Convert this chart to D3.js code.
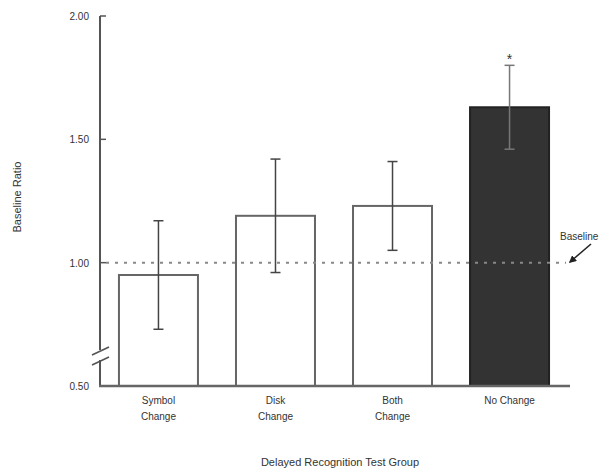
<!DOCTYPE html>
<html>
<head>
<meta charset="utf-8">
<script src="https://cdn.jsdelivr.net/npm/d3@7"></script>
<style>
  body { margin: 0; background: #fff; }
  text { font-family: "Liberation Sans", Arial, sans-serif; fill: #333; }
</style>
</head>
<body>
<svg id="chart" width="611" height="474"></svg>
<script>
// Data
const groups = [["Symbol", "Change"], ["Disk", "Change"], ["Both", "Change"], ["No Change"]];
const means = [0.95, 1.19, 1.23, 1.63];
const errLow = [0.73, 0.96, 1.05, 1.46];
const errHigh = [1.17, 1.42, 1.41, 1.80];
const yTicks = [0.5, 1.0, 1.5, 2.0];
const baseline = 1.0;

const svg = d3.select("#chart");
const axisX = 100, plotBottom = 386, plotTop = 16, plotRight = 570;

const y = d3.scaleLinear().domain([0.5, 2.0]).range([plotBottom, plotTop]);
const x = d3.scaleBand().domain(d3.range(groups.length)).range([100, 568]).paddingInner(0.325).paddingOuter(0.162);

// ── Bars ────────────────────────────────────────────────────────────────────
svg.selectAll(".bar")
  .data(means)
  .join("rect")
  .attr("x", (d, i) => x(i))
  .attr("y", d => y(d))
  .attr("width", x.bandwidth())
  .attr("height", d => plotBottom - y(d))
  .attr("fill", (d, i) => i === 3 ? "#333" : "#fff")
  .attr("stroke", (d, i) => i === 3 ? "#222" : "#666")
  .attr("stroke-width", 2);

// Baseline dotted line
svg.append("line")
  .attr("x1", axisX + 6).attr("x2", 566)
  .attr("y1", y(baseline)).attr("y2", y(baseline))
  .attr("stroke", "#888").attr("stroke-width", 2)
  .attr("stroke-dasharray", "3,6");

// ── Error bars ──────────────────────────────────────────────────────────────
const eb = svg.append("g");
means.forEach((m, i) => {
  const cx = x(i) + x.bandwidth() / 2;
  const col = i === 3 ? "#777" : "#444";
  eb.append("line").attr("x1", cx).attr("x2", cx)
    .attr("y1", y(errHigh[i])).attr("y2", y(errLow[i]))
    .attr("stroke", col).attr("stroke-width", 1.5);
  [errHigh[i], errLow[i]].forEach(v => {
    eb.append("line").attr("x1", cx - 5).attr("x2", cx + 5)
      .attr("y1", y(v)).attr("y2", y(v))
      .attr("stroke", col).attr("stroke-width", 1.5);
  });
});

// Asterisk on No Change
svg.append("text")
  .attr("x", x(3) + x.bandwidth() / 2)
  .attr("y", y(errHigh[3]) - 1)
  .attr("text-anchor", "middle")
  .attr("font-size", 14)
  .text("*");

// ── Axes ────────────────────────────────────────────────────────────────────
const yAxis = svg.append("g");
// axis line with break
const breakTop = 350, breakBot = 360;
yAxis.append("line").attr("x1", axisX).attr("x2", axisX).attr("y1", plotTop).attr("y2", breakTop)
  .attr("stroke", "#555").attr("stroke-width", 2);
yAxis.append("line").attr("x1", axisX).attr("x2", axisX).attr("y1", breakBot).attr("y2", plotBottom)
  .attr("stroke", "#555").attr("stroke-width", 2);
[breakTop + 1, breakBot + 1].forEach(by => {
  yAxis.append("line").attr("x1", axisX - 8).attr("x2", axisX + 9)
    .attr("y1", by + 4).attr("y2", by - 4)
    .attr("stroke", "#555").attr("stroke-width", 1.5);
});

yAxis.selectAll(".tick")
  .data(yTicks)
  .join("line")
  .attr("x1", axisX).attr("x2", axisX + 6)
  .attr("y1", d => y(d)).attr("y2", d => y(d))
  .attr("stroke", "#555").attr("stroke-width", 1.5);

yAxis.selectAll(".tlabel")
  .data(yTicks)
  .join("text")
  .attr("x", 89)
  .attr("y", d => y(d) + 4)
  .attr("text-anchor", "end")
  .attr("font-size", 10)
  .text(d => d3.format(".2f")(d));

// x axis line
svg.append("line")
  .attr("x1", axisX - 1).attr("x2", plotRight)
  .attr("y1", plotBottom).attr("y2", plotBottom)
  .attr("stroke", "#666").attr("stroke-width", 2.5);

// Category labels
svg.selectAll(".cat")
  .data(groups)
  .join("text")
  .attr("text-anchor", "middle")
  .attr("font-size", 10)
  .attr("transform", (d, i) => `translate(${x(i) + x.bandwidth() / 2},${plotBottom + 18})`)
  .each(function (d) {
    d3.select(this).selectAll("tspan")
      .data(d)
      .join("tspan")
      .attr("x", 0)
      .attr("dy", (t, j) => j === 0 ? 0 : 16)
      .text(t => t);
  });

// Axis titles
svg.append("text")
  .attr("transform", `translate(21,197) rotate(-90)`)
  .attr("text-anchor", "middle")
  .attr("font-size", 11)
  .text("Baseline Ratio");

svg.append("text")
  .attr("x", 340).attr("y", 466)
  .attr("text-anchor", "middle")
  .attr("font-size", 11)
  .text("Delayed Recognition Test Group");

// Baseline annotation
svg.append("text")
  .attr("x", 560).attr("y", 240)
  .attr("font-size", 10)
  .text("Baseline");
svg.append("defs").append("marker")
  .attr("id", "arr").attr("viewBox", "0 0 10 10")
  .attr("refX", 8).attr("refY", 5)
  .attr("markerWidth", 5).attr("markerHeight", 5)
  .attr("orient", "auto")
  .append("path").attr("d", "M0,0L10,5L0,10z").attr("fill", "#222");
svg.append("line")
  .attr("x1", 591).attr("y1", 244).attr("x2", 570).attr("y2", 262)
  .attr("stroke", "#222").attr("stroke-width", 1.5)
  .attr("marker-end", "url(#arr)");
</script>
</body>
</html>
